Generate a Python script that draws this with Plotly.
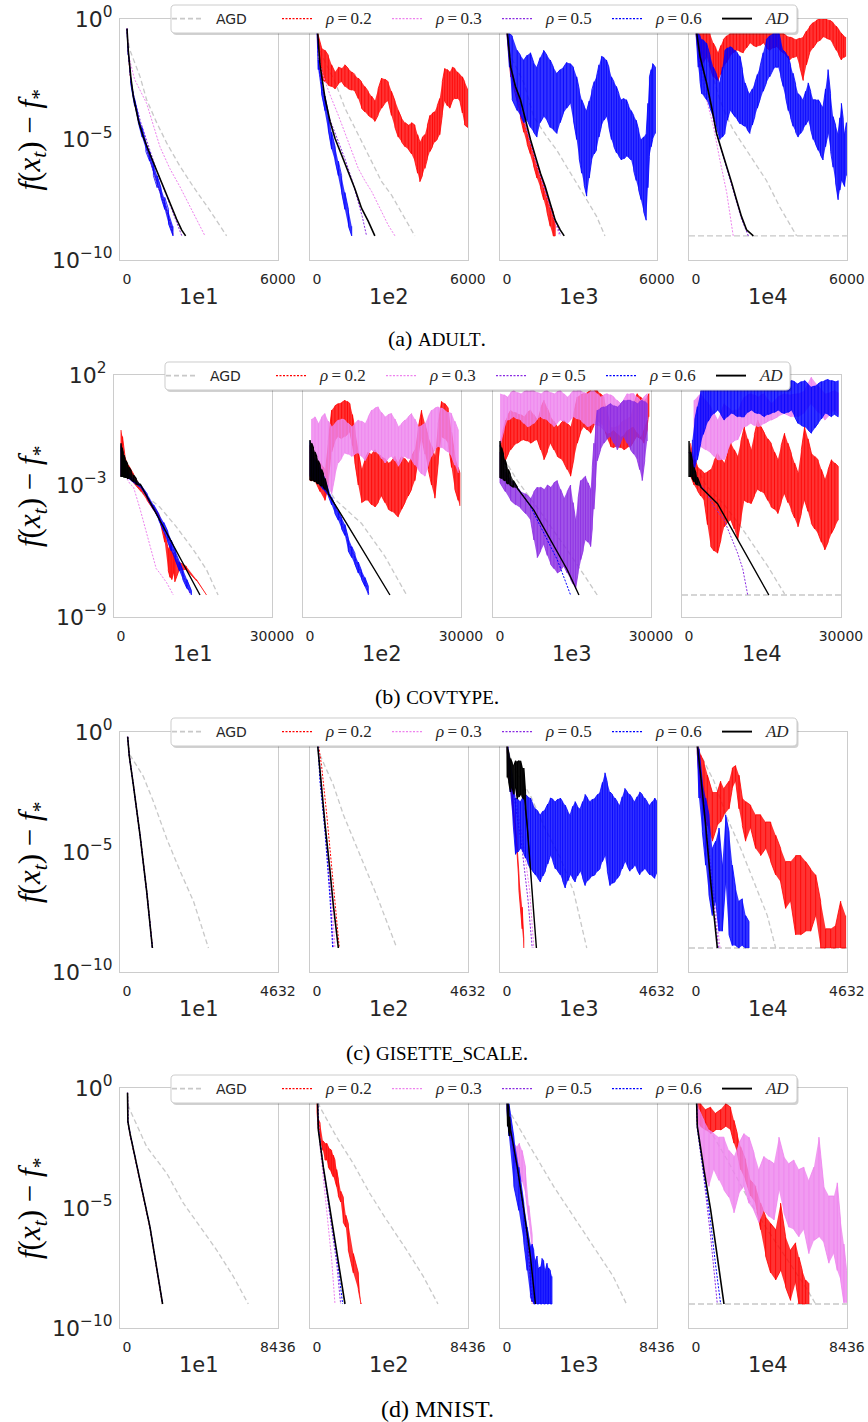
import plotly.graph_objects as go

W, H = 868, 1422

# Convergence curves: each point is (iteration, log10 of f(x_t) - f_*).
# Noisy runs are stored as (iteration, log10 upper, log10 lower) envelopes.

# ---------------- ADULT ----------------
ADULT_XMAX = 6000
ADULT_FLOOR = -9.0

ADULT_1E1_AGD = [(60, -1.0), (120, -1.3), (520, -2.4), (780, -3.35), (1180, -4.3), (1580, -5.15), (2100, -6.1), (2630, -6.95), (3300, -7.95), (3960, -9.0)]
ADULT_1E1_R02 = [(0, -0.4), (50, -1.4), (150, -2.6), (300, -3.5), (500, -4.4), (750, -5.3), (1000, -6.2), (1250, -7.0), (1500, -7.7), (1700, -8.4), (1840, -9.0)]
ADULT_1E1_R03 = [(0, -0.4), (60, -1.5), (300, -2.5), (780, -3.5), (1310, -5.3), (1700, -6.2), (2100, -6.95), (2630, -8.05), (3100, -9.0)]
ADULT_1E1_R05 = [(0, -0.4), (50, -1.35), (150, -2.5), (300, -3.35), (550, -4.3), (850, -5.3), (1150, -6.2), (1450, -7.0), (1750, -7.8), (2000, -8.45), (2180, -9.0)]
ADULT_1E1_R06 = [(0, -0.4, -0.5), (50, -1.3, -1.5), (150, -2.5, -2.7), (300, -3.3, -3.6), (450, -4.0, -4.3), (600, -4.5, -4.9), (750, -5.1, -5.5), (900, -5.5, -5.9), (1050, -6.0, -6.5), (1200, -6.5, -7.0), (1350, -7.0, -7.4), (1500, -7.4, -7.9), (1650, -7.9, -8.5), (1830, -8.6, -9.0)]
ADULT_1E1_AD = [(0, -0.4), (50, -1.3), (150, -2.4), (250, -3.2), (450, -4.2), (650, -4.9), (910, -5.6), (1180, -6.3), (1440, -6.95), (1700, -7.6), (1970, -8.3), (2170, -8.75), (2330, -9.0)]

ADULT_1E2_AGD = [(60, -1.0), (185, -1.5), (715, -2.6), (1110, -3.7), (1640, -4.8), (2040, -5.65), (2570, -6.75), (2960, -7.3), (3490, -8.25), (3890, -9.0)]
ADULT_1E2_R02 = [(0, -0.2, -0.6), (30, -0.6, -1.2), (185, -1.2, -2.5), (320, -1.3, -2.6), (450, -1.5, -2.75), (580, -1.9, -2.8), (715, -2.2, -2.9), (850, -2.0, -2.7), (980, -2.05, -2.6), (1110, -1.9, -2.8), (1245, -2.05, -2.9), (1380, -2.2, -2.95), (1510, -2.3, -3.0), (1640, -2.45, -3.3), (1770, -2.6, -3.7), (1900, -2.8, -3.85), (2040, -3.0, -4.0), (2170, -3.2, -4.1), (2300, -3.4, -4.25), (2430, -2.9, -4.0), (2570, -2.45, -3.7), (2700, -2.5, -3.5), (2830, -2.6, -3.4), (2960, -3.0, -4.0), (3100, -3.4, -4.5), (3230, -3.8, -4.9), (3360, -4.1, -5.1), (3500, -4.3, -5.3), (3630, -4.4, -5.4), (3760, -4.3, -5.6), (3890, -4.4, -5.9), (4000, -4.8, -6.4), (4090, -5.1, -6.75), (4190, -4.9, -6.5), (4290, -4.8, -6.2), (4390, -4.4, -5.8), (4490, -4.0, -5.5), (4590, -3.9, -5.3), (4680, -3.85, -5.1), (4780, -3.6, -5.0), (4880, -3.3, -4.8), (4980, -2.6, -4.0), (5080, -2.05, -3.4), (5180, -2.1, -3.6), (5280, -2.2, -3.7), (5380, -2.0, -3.4), (5480, -2.05, -3.3), (5580, -2.2, -3.3), (5680, -2.3, -3.4), (5780, -2.4, -3.9), (5870, -2.6, -4.4), (6000, -2.9, -4.5)]
ADULT_1E2_R03 = [(0, -0.3), (60, -1.5), (190, -2.2), (500, -3.1), (850, -4.0), (1110, -4.7), (1400, -5.5), (1640, -6.2), (1900, -6.7), (2170, -7.15), (2430, -7.7), (2830, -8.55), (3100, -9.0)]
ADULT_1E2_R05 = [(0, -0.3), (60, -1.9), (200, -2.9), (450, -4.0), (780, -4.9), (1110, -5.8), (1400, -6.7), (1640, -7.6), (1800, -8.2), (1970, -9.0)]
ADULT_1E2_R06 = [(0, -0.3, -0.5), (50, -1.7, -2.1), (180, -2.6, -3.1), (320, -3.2, -3.8), (450, -3.9, -4.6), (580, -4.7, -5.4), (720, -5.3, -5.9), (850, -5.9, -6.5), (980, -6.5, -7.2), (1110, -7.2, -7.9), (1250, -7.9, -8.6), (1380, -8.6, -9.0)]
ADULT_1E2_AD = [(0, -0.2), (30, -0.6), (120, -1.9), (320, -3.3), (520, -4.25), (715, -4.95), (980, -5.65), (1240, -6.35), (1510, -7.05), (1770, -7.85), (2040, -8.4), (2300, -9.0)]

ADULT_1E3_AGD = [(60, -1.0), (150, -1.55), (675, -2.65), (1070, -4.05), (1600, -4.9), (2000, -5.45), (2400, -6.15), (2790, -6.8), (3190, -7.5), (3590, -8.2), (3920, -9.0)]
ADULT_1E3_R02 = [(0, -0.2, -0.6), (150, -1.9, -2.4), (280, -2.5, -2.9), (410, -3.0, -3.4), (540, -3.6, -4.1), (675, -4.2, -4.7), (810, -4.7, -5.2), (940, -5.1, -5.6), (1070, -5.5, -6.1), (1200, -6.0, -6.6), (1340, -6.4, -7.0), (1470, -6.8, -7.5), (1600, -7.2, -8.0), (1730, -7.7, -8.6), (1850, -8.0, -9.0), (1930, -8.3, -9.0)]
ADULT_1E3_R03 = [(0, -0.3), (150, -2.1), (400, -3.2), (700, -4.3), (950, -5.2), (1200, -6.1), (1450, -6.9), (1700, -7.7), (1950, -8.5), (2100, -9.0)]
ADULT_1E3_R05 = [(0, -0.3), (150, -2.0), (420, -3.3), (720, -4.35), (980, -5.2), (1250, -6.2), (1500, -7.0), (1750, -7.8), (2000, -8.6), (2150, -9.0)]
ADULT_1E3_R06 = [(0, -0.2, -0.6), (100, -0.6, -2.0), (210, -0.7, -3.35), (410, -1.3, -3.8), (540, -1.5, -4.0), (675, -1.7, -4.3), (810, -1.5, -4.2), (940, -1.4, -4.5), (1070, -1.8, -4.7), (1200, -2.0, -4.9), (1330, -1.6, -4.3), (1470, -1.3, -4.05), (1600, -1.5, -4.2), (1730, -1.7, -4.5), (1860, -2.0, -4.6), (2000, -2.25, -4.75), (2130, -2.1, -4.3), (2260, -2.0, -3.9), (2390, -1.8, -3.7), (2530, -1.85, -3.5), (2660, -2.0, -4.2), (2790, -2.4, -5.0), (2890, -2.9, -5.8), (2990, -3.35, -6.4), (3090, -3.6, -6.9), (3190, -3.8, -7.35), (3290, -3.4, -6.6), (3390, -2.95, -5.85), (3490, -2.6, -5.6), (3580, -2.4, -5.45), (3680, -1.9, -4.9), (3780, -1.55, -4.45), (3880, -1.6, -4.2), (3980, -1.7, -4.05), (4080, -2.0, -4.5), (4180, -2.4, -5.0), (4280, -2.6, -5.3), (4380, -2.8, -5.55), (4480, -3.1, -5.7), (4580, -3.35, -5.85), (4680, -3.3, -5.8), (4780, -3.35, -5.7), (4870, -3.6, -5.75), (4970, -3.8, -5.85), (5070, -4.0, -6.3), (5170, -4.2, -6.7), (5270, -4.6, -7.1), (5370, -5.0, -7.5), (5470, -4.9, -8.0), (5570, -4.75, -8.35), (5640, -3.5, -7.0), (5700, -2.4, -5.7), (5770, -2.1, -5.3), (5830, -1.85, -5.0), (5940, -2.0, -4.75)]
ADULT_1E3_AD = [(0, -0.2), (20, -0.6), (150, -2.0), (340, -2.8), (540, -3.35), (740, -4.2), (940, -5.0), (1140, -5.7), (1340, -6.4), (1530, -6.95), (1730, -7.65), (1930, -8.35), (2130, -8.75), (2290, -9.0)]

ADULT_1E4_AGD = [(60, -1.0), (560, -2.0), (950, -3.35), (1220, -4.05), (1480, -4.6), (2280, -5.85), (2800, -6.7), (3330, -7.8), (3860, -8.75), (4000, -9.0)]
ADULT_1E4_R02 = [(0, -0.2, -0.6), (160, -0.6, -2.0), (290, -0.45, -1.8), (420, -0.3, -1.55), (555, -0.6, -2.0), (690, -1.0, -2.4), (790, -1.2, -2.5), (890, -1.4, -2.55), (990, -1.1, -2.3), (1090, -0.85, -2.0), (1220, -0.7, -1.8), (1350, -0.6, -1.55), (1480, -0.4, -1.4), (1610, -0.2, -1.3), (1745, -0.3, -1.35), (1880, -0.45, -1.4), (2010, -0.25, -1.2), (2140, -0.05, -1.0), (2275, -0.1, -1.1), (2410, -0.2, -1.15), (2540, -0.25, -1.1), (2670, -0.3, -1.0), (2805, -0.15, -1.2), (2940, -0.05, -1.3), (3070, -0.1, -1.2), (3200, -0.2, -1.15), (3335, -0.4, -1.3), (3470, -0.6, -1.4), (3600, -0.7, -1.55), (3730, -0.75, -1.7), (3860, -0.8, -1.6), (4000, -0.85, -1.55), (4130, -0.8, -2.0), (4260, -0.75, -2.55), (4390, -0.5, -1.9), (4520, -0.3, -1.4), (4655, -0.15, -1.2), (4790, -0.05, -1.0), (4920, 0.0, -0.9), (5050, 0.0, -0.75), (5185, 0.0, -0.8), (5320, -0.05, -0.85), (5450, -0.15, -1.05), (5580, -0.3, -1.3), (5680, -0.45, -1.5), (5780, -0.6, -1.7), (5870, -0.7, -1.6), (5950, -0.75, -1.55)]
ADULT_1E4_R03 = [(0, -0.2), (160, -2.0), (420, -3.35), (690, -4.45), (950, -5.85), (1220, -7.2), (1480, -9.0)]
ADULT_1E4_R05 = [(0, -0.2), (160, -1.7), (420, -2.8), (820, -4.8), (1220, -6.2), (1610, -7.6), (1810, -8.3), (2080, -9.0)]
ADULT_1E4_R06 = [(0, -0.2, -0.6), (90, -0.6, -2.0), (160, -0.7, -2.6), (225, -0.85, -3.1), (320, -0.9, -3.2), (420, -1.0, -3.35), (555, -1.5, -3.7), (690, -2.0, -4.05), (820, -2.3, -4.5), (950, -2.65, -5.0), (1050, -2.0, -4.9), (1150, -1.3, -4.75), (1250, -1.2, -4.2), (1350, -1.15, -3.8), (1450, -1.2, -3.9), (1550, -1.3, -4.05), (1650, -1.4, -4.2), (1750, -1.55, -4.35), (1850, -2.1, -4.4), (1950, -2.65, -4.45), (2040, -2.9, -4.6), (2140, -3.1, -4.75), (2240, -2.9, -4.4), (2340, -2.65, -4.05), (2440, -2.3, -3.7), (2540, -2.0, -3.35), (2670, -1.4, -3.0), (2800, -0.85, -2.65), (2930, -0.7, -2.4), (3070, -0.6, -2.1), (3170, -0.5, -2.0), (3270, -0.45, -2.0), (3370, -0.9, -2.4), (3470, -1.3, -2.8), (3570, -1.4, -3.3), (3670, -1.55, -3.8), (3760, -1.9, -4.1), (3860, -2.25, -4.45), (3960, -2.7, -4.7), (4060, -3.1, -4.9), (4160, -3.2, -4.75), (4260, -3.35, -4.6), (4360, -3.0, -4.4), (4460, -2.65, -4.2), (4560, -3.0, -4.6), (4660, -3.35, -5.0), (4760, -3.35, -5.2), (4860, -3.35, -5.45), (4950, -3.5, -5.65), (5050, -3.65, -5.85), (5150, -2.9, -5.3), (5250, -2.1, -4.75), (5350, -3.1, -5.5), (5450, -4.05, -6.15), (5550, -4.4, -6.8), (5650, -4.75, -7.5), (5720, -4.1, -7.1), (5780, -3.5, -6.7), (5850, -4.1, -6.8), (5910, -4.75, -6.95), (5980, -4.3, -6.5)]
ADULT_1E4_AD = [(0, -0.2), (30, -0.6), (160, -1.55), (290, -2.1), (420, -2.65), (620, -3.65), (820, -4.75), (1020, -5.45), (1220, -6.1), (1420, -6.8), (1610, -7.5), (1810, -8.2), (2010, -8.75), (2280, -9.0)]

# ---------------- COVTYPE ----------------
COV_XMAX = 30000
COV_FLOOR = -8.0

COV_1E1_AGD = [(0, -1.3), (1100, -2.3), (4400, -3.4), (7700, -4.0), (11000, -4.9), (14400, -5.95), (17000, -6.85), (19300, -8.0)]
COV_1E1_R02 = [(0, -0.5, -2.6), (300, -0.8, -2.5), (800, -1.7, -2.6), (1500, -2.1, -2.7), (2500, -2.5, -2.9), (4000, -3.1, -3.3), (5200, -3.5, -3.7), (6400, -3.95, -4.1), (7700, -4.4, -4.6), (8700, -5.2, -5.6), (9400, -5.9, -6.9), (9750, -5.7, -7.2), (10100, -6.0, -7.3), (10400, -6.1, -7.0), (10700, -6.3, -7.4), (11500, -6.5, -6.9), (13000, -6.7, -6.85), (15000, -7.3, -7.35), (17000, -8.0, -8.0)]
COV_1E1_R03 = [(0, -1.5), (600, -2.5), (1800, -2.95), (2500, -3.1), (3800, -4.1), (5100, -5.2), (6400, -6.4), (7000, -6.8), (7700, -7.0), (8400, -7.2), (9100, -7.45), (10400, -8.0)]
COV_1E1_R05 = [(0, -1.4), (600, -2.5), (2000, -2.75), (3800, -3.05), (6400, -3.95), (8400, -4.9), (10000, -5.75), (11500, -6.55), (12700, -7.3), (13800, -8.0)]
COV_1E1_R06 = [(0, -1.2, -2.6), (500, -2.2, -2.6), (2000, -2.6, -2.8), (3800, -2.95, -3.1), (5200, -3.4, -3.6), (6500, -3.9, -4.15), (7500, -4.3, -4.6), (8500, -4.7, -5.1), (9300, -5.1, -5.6), (10000, -5.5, -6.0), (10800, -6.0, -6.4), (11600, -6.5, -6.9), (12300, -6.9, -7.3), (13100, -7.3, -7.7), (14000, -7.8, -8.0)]
COV_1E1_AD = [(0, -1.1, -2.6), (200, -1.3, -2.6), (400, -1.5, -2.6), (600, -1.65, -2.65), (800, -1.8, -2.65), (1000, -1.9, -2.65), (1300, -2.05, -2.7), (1600, -2.2, -2.7), (2000, -2.35, -2.75), (2500, -2.55, -2.85), (3000, -2.7, -2.95), (3800, -2.95, -3.0), (6500, -4.08, -4.08), (9000, -5.13, -5.13), (12000, -6.4, -6.4), (15700, -8.0, -8.0)]

COV_1E2_AGD = [(0, -1.5), (1650, -2.5), (4960, -3.65), (10260, -4.75), (14900, -6.25), (19200, -8.0)]
COV_1E2_R02 = [(0, -1.2, -2.8), (500, -1.5, -2.8), (990, -1.7, -2.8), (2000, -2.0, -3.3), (2980, -2.3, -3.7), (3640, -1.0, -3.0), (4300, 0.4, -1.5), (4960, 0.6, -1.0), (5630, 0.7, -0.8), (6290, 0.75, -0.9), (6950, 0.85, -0.8), (7450, 0.8, -0.7), (7940, 0.7, -0.6), (8440, 0.2, -1.2), (8940, -0.5, -2.0), (9600, -1.5, -3.0), (10260, -2.3, -3.8), (10920, -1.8, -3.7), (11590, -1.5, -3.7), (12250, -1.6, -3.9), (12910, -1.4, -4.0), (13570, -1.6, -3.8), (14230, -1.7, -3.5), (14900, -1.8, -3.8), (15560, -2.0, -4.1), (16220, -1.9, -4.2), (16880, -1.7, -4.3), (17540, -2.0, -4.45), (18200, -1.7, -4.1), (18870, -1.8, -3.8), (19530, -2.0, -3.5), (20190, -1.7, -3.2), (20850, -1.4, -2.8), (21520, -0.4, -1.8), (22180, 0.4, -0.8), (22840, -0.2, -1.6), (23500, -0.8, -2.3), (24160, -1.2, -3.0), (24830, -1.7, -3.6), (25490, -0.2, -2.0), (26150, 0.8, -0.8), (26810, 0.7, -0.9), (27470, 0.5, -1.1), (28140, -0.6, -2.2), (28800, -1.7, -3.2), (29460, -2.2, -3.7), (29790, -2.45, -3.95)]
COV_1E2_R03 = [(330, 0.0, -2.5), (990, 0.1, -2.2), (1650, -0.2, -1.9), (2320, 0.1, -2.4), (2980, 0.25, -2.8), (3640, -0.1, -3.1), (4300, -0.35, -3.4), (4960, -0.2, -2.6), (5630, -0.05, -2.0), (6290, 0.0, -1.8), (6950, -0.05, -1.55), (7610, -0.2, -1.6), (8280, -0.35, -1.7), (8940, -0.2, -1.6), (9600, -0.05, -1.55), (10260, -0.1, -1.7), (10920, -0.2, -1.9), (11590, 0.1, -1.6), (12250, 0.4, -1.4), (12910, 0.5, -1.5), (13570, 0.55, -1.55), (14230, 0.3, -1.8), (14900, 0.1, -2.0), (15560, 0.2, -1.8), (16220, 0.25, -1.7), (16880, 0.0, -1.9), (17540, -0.35, -2.15), (18200, -0.2, -1.9), (18870, -0.05, -1.7), (19530, 0.1, -1.8), (20190, 0.25, -1.85), (20850, 0.0, -2.1), (21520, -0.35, -2.3), (22180, -0.3, -2.5), (22840, -0.2, -2.6), (23500, 0.1, -2.1), (24160, 0.4, -1.7), (24830, 0.5, -1.4), (25490, 0.55, -1.25), (26150, 0.5, -1.3), (26810, 0.4, -1.4), (27470, 0.3, -1.5), (28140, 0.25, -1.7), (28800, -0.1, -2.1), (29460, -0.5, -2.45)]
COV_1E2_R05 = [(0, -1.2), (1650, -2.3), (3640, -3.3), (5630, -4.3), (7610, -5.6), (9600, -6.7), (10900, -7.4), (11800, -8.0)]
COV_1E2_R06 = [(0, -1.0, -2.6), (800, -1.8, -2.8), (1650, -2.0, -2.9), (2600, -2.5, -3.2), (3640, -3.2, -3.5), (4300, -3.55, -3.9), (4960, -3.9, -4.3), (5630, -4.2, -4.6), (6300, -4.5, -5.0), (6950, -4.8, -5.3), (7610, -5.4, -6.0), (8300, -5.8, -6.3), (8940, -6.1, -6.6), (9600, -6.5, -7.0), (10260, -6.9, -7.3), (10920, -7.2, -7.6), (11590, -7.6, -8.0)]
COV_1E2_AD = [(0, -0.95, -2.75), (330, -1.1, -2.8), (660, -1.3, -2.8), (990, -1.5, -2.85), (1320, -1.7, -2.9), (1650, -1.9, -2.95), (2000, -2.1, -3.0), (2320, -2.3, -3.05), (2650, -2.5, -3.1), (3000, -2.7, -3.2), (3640, -3.35, -3.4), (7000, -4.64, -4.64), (11000, -6.14, -6.14), (15890, -8.0, -8.0)]

COV_1E3_AGD = [(0, -1.5), (3440, -2.8), (8740, -4.45), (14700, -6.4), (19330, -8.0)]
COV_1E3_R02 = [(130, -0.95, -2.6), (630, -0.5, -2.2), (1130, -0.05, -1.85), (1620, 0.2, -1.6), (2120, 0.4, -1.4), (2780, 0.3, -1.2), (3440, 0.26, -1.1), (4100, 0.2, -1.0), (4770, 0.1, -0.95), (5430, 0.3, -1.0), (6090, 0.4, -1.1), (6750, 0.2, -1.0), (7410, -0.05, -0.95), (8080, 0.5, -1.4), (8740, 0.85, -1.85), (9400, 0.5, -1.5), (10060, 0.1, -1.1), (10720, -0.1, -1.4), (11390, -0.35, -1.7), (12050, -0.2, -1.8), (12710, -0.05, -2.0), (13370, -0.2, -2.3), (14030, -0.35, -2.6), (14700, 0.3, -1.8), (15360, 1.0, -1.1), (16020, 1.1, -0.6), (16680, 1.15, -0.35), (17340, 1.2, -0.5), (18010, 1.3, -0.65), (18670, 1.3, -0.3), (19330, 1.3, -0.05), (19990, 1.15, -0.2), (20650, 1.0, -0.35), (21320, 0.3, -0.9), (21980, -0.35, -1.25), (22640, -0.4, -1.3), (23300, -0.35, -1.25), (23960, -0.2, -1.3), (24630, -0.05, -1.4), (25290, 0.0, -1.3), (25950, 0.1, -1.25), (26610, 0.7, -1.0), (27270, 1.15, -0.8), (27940, 1.0, -0.9), (28600, 0.85, -1.1), (29260, 1.0, -0.5), (29590, 1.15, 0.1)]
COV_1E3_R03 = [(130, 1.15, -1.1), (790, 1.1, -0.5), (1460, 1.0, -0.05), (2120, 1.2, 0.0), (2780, 1.3, 0.1), (3440, 1.2, 0.0), (4100, 1.15, -0.05), (4770, 1.25, -0.2), (5430, 1.3, -0.35), (6090, 1.3, -0.3), (6750, 1.3, -0.2), (7410, 1.2, 0.0), (8080, 1.15, 0.1), (8740, 1.25, 0.0), (9400, 1.3, -0.05), (10060, 1.2, -0.2), (10720, 1.15, -0.35), (11390, 1.25, -0.2), (12050, 1.3, -0.05), (12710, 1.15, -0.1), (13370, 1.0, -0.2), (14030, 1.15, -0.05), (14700, 1.3, 0.1), (15360, 1.3, 0.0), (16020, 1.3, -0.05), (16680, 1.2, -0.2), (17340, 1.15, -0.35), (18010, 1.25, -0.3), (18670, 1.3, -0.2), (19330, 1.15, -0.3), (19990, 1.0, -0.35), (20650, 1.1, -0.5), (21320, 1.15, -0.65), (21980, 1.1, -0.6), (22640, 1.0, -0.5), (23300, 0.85, -0.65), (23960, 0.7, -0.8), (24630, 0.9, -0.7), (25290, 1.15, -0.5), (25950, 1.15, -0.4), (26610, 1.15, -0.35), (27270, 1.0, -0.6), (27940, 0.85, -0.8), (28600, 1.0, -0.4), (29260, 1.15, -0.05)]
COV_1E3_R05 = [(0, -1.5, -2.9), (1060, -2.4, -3.3), (2120, -2.8, -3.7), (3110, -3.0, -3.9), (4100, -3.3, -4.05), (5090, -3.4, -4.3), (6090, -3.6, -4.6), (6750, -3.3, -5.5), (7410, -3.1, -6.3), (8080, -3.1, -6.0), (8740, -3.2, -5.7), (9400, -3.0, -6.2), (10060, -3.1, -6.6), (10720, -2.9, -6.8), (11390, -2.8, -7.0), (12050, -3.2, -6.9), (12710, -3.6, -6.7), (13370, -3.3, -7.0), (14030, -3.0, -7.3), (14530, -3.8, -7.5), (15030, -4.6, -7.7), (15530, -3.6, -7.0), (16020, -2.8, -6.4), (16520, -2.7, -6.0), (17010, -2.6, -5.5), (17510, -2.9, -5.6), (18010, -3.2, -5.8), (18340, -2.2, -5.0), (18670, -1.1, -4.1), (19000, -0.3, -3.0), (19330, 0.4, -1.9), (19990, 0.5, -1.4), (20650, 0.55, -1.1), (21320, 0.6, -0.9), (21980, 0.7, -0.8), (22640, 0.6, -1.1), (23300, 0.55, -1.4), (23960, 0.7, -1.1), (24630, 0.85, -0.8), (25290, 0.85, -1.1), (25950, 0.85, -1.4), (26610, 0.8, -1.6), (27270, 0.7, -1.85), (27770, 0.8, -2.3), (28270, 0.85, -2.8), (28770, 0.8, -1.9), (29260, 0.7, -1.0)]
COV_1E3_R06 = [(0, -1.2), (1500, -2.6), (3440, -3.1), (6000, -3.95), (8080, -4.9), (11390, -6.4), (14030, -8.0)]
COV_1E3_AD = [(0, -1.0, -2.65), (330, -1.3, -2.7), (660, -1.6, -2.75), (990, -1.85, -2.8), (1320, -2.1, -2.9), (1650, -2.3, -2.95), (2000, -2.5, -3.0), (2650, -2.8, -3.1), (3440, -3.1, -3.15), (6750, -4.15, -4.15), (10060, -5.5, -5.5), (13370, -6.85, -6.85), (15690, -8.0, -8.0)]

COV_1E4_AGD = [(0, -1.5), (3300, -3.0), (6950, -3.9), (10260, -4.9), (15560, -6.7), (18870, -7.95)]
COV_1E4_R02 = [(330, -1.1, -2.6), (990, -1.7, -3.0), (1650, -2.15, -3.25), (2320, -2.3, -3.5), (2980, -2.45, -3.7), (3640, -2.4, -4.8), (4300, -2.3, -5.8), (4960, -1.9, -6.0), (5630, -1.55, -6.1), (6290, -1.8, -5.5), (6950, -2.0, -4.9), (7610, -1.5, -4.7), (8280, -1.1, -4.6), (8940, -1.4, -5.0), (9600, -1.7, -5.5), (10260, -1.0, -4.6), (10920, -0.35, -3.7), (11590, -0.9, -3.8), (12250, -1.4, -3.85), (12910, -0.7, -3.5), (13570, -0.05, -3.2), (14230, -0.35, -3.3), (14900, -0.65, -3.4), (15560, -0.9, -3.7), (16220, -1.1, -4.0), (16880, -1.5, -4.1), (17540, -1.85, -4.3), (18200, -1.2, -3.8), (18870, -0.65, -3.4), (19530, -1.1, -3.8), (20190, -1.55, -4.15), (20850, -2.0, -4.5), (21520, -2.45, -4.9), (22180, -1.4, -4.3), (22840, -0.35, -3.7), (23500, -0.9, -4.2), (24160, -1.55, -4.75), (24830, -1.7, -5.0), (25490, -1.85, -5.2), (26150, -2.3, -5.6), (26810, -2.75, -5.95), (27470, -2.3, -5.6), (28140, -1.85, -5.2), (28800, -2.0, -4.9), (29460, -2.15, -4.6)]
COV_1E4_R03 = [(990, 0.85, -1.85), (1650, 1.0, -1.5), (2320, 1.15, -1.25), (3310, 0.85, -1.4), (4300, 0.55, -1.55), (4960, 0.25, -1.7), (5630, -0.05, -1.85), (6290, 0.3, -1.85), (6950, 0.7, -1.85), (7610, 0.55, -1.5), (8280, 0.4, -1.1), (8940, 0.4, -1.0), (9600, 0.4, -0.95), (10260, 0.7, -0.6), (10920, 1.0, -0.35), (11590, 1.1, -0.3), (12250, 1.15, -0.2), (12910, 1.1, -0.3), (13570, 1.0, -0.35), (14230, 1.1, -0.3), (14900, 1.15, -0.2), (15560, 0.9, -0.1), (16220, 0.7, -0.05), (17540, 1.0, 0.1), (18870, 1.15, 0.25), (20190, 1.1, 0.1), (21520, 1.15, 0.1), (22840, 1.3, 0.3), (24160, 1.9, 0.7), (25490, 1.5, 0.3), (26810, 1.15, -0.05), (27800, 1.2, 0.2), (28800, 1.3, 0.4), (29460, 1.2, 0.2)]
COV_1E4_R05 = [(0, -1.5), (1650, -2.8), (3300, -3.3), (5000, -4.0), (6950, -4.6), (8300, -5.4), (9600, -6.1), (10600, -6.8), (11590, -8.0)]
COV_1E4_R06 = [(660, -0.95, -2.6), (1160, 0.0, -2.2), (1650, 0.56, -1.85), (2320, 1.3, -1.1), (2810, 1.4, -0.7), (3310, 1.45, -0.35), (3800, 1.45, -0.1), (4300, 1.45, 0.1), (4960, 1.6, 0.25), (5630, 1.75, 0.4), (6290, 1.7, 0.2), (6950, 1.6, -0.05), (7610, 1.7, 0.1), (8280, 1.75, 0.25), (8940, 1.6, 0.2), (9600, 1.45, 0.1), (10260, 1.6, 0.1), (10920, 1.75, 0.1), (11590, 1.8, 0.3), (12250, 1.75, 0.4), (12910, 1.7, 0.3), (13570, 1.6, 0.25), (14230, 1.7, 0.2), (14900, 1.75, 0.1), (15560, 1.7, 0.2), (16220, 1.6, 0.25), (16880, 1.7, 0.3), (17540, 1.75, 0.4), (18200, 1.7, 0.3), (18870, 1.6, 0.25), (19530, 1.7, 0.3), (20190, 1.75, 0.4), (20850, 1.7, 0.1), (21520, 1.6, -0.2), (22180, 1.7, -0.3), (22840, 1.75, -0.35), (23500, 1.6, -0.5), (24160, 1.45, -0.65), (24830, 1.5, -0.4), (25490, 1.6, -0.2), (26150, 1.7, 0.0), (26810, 1.75, 0.25), (27470, 1.8, 0.2), (28140, 1.75, 0.1), (28800, 1.7, 0.2), (29460, 1.75, 0.1)]
COV_1E4_AD = [(0, -1.0, -2.6), (330, -1.5, -2.6), (660, -1.9, -2.7), (990, -2.2, -2.85), (1320, -2.45, -2.95), (1650, -2.65, -3.0), (2320, -3.05, -3.1), (5630, -3.85, -3.85), (8940, -5.2, -5.2), (12250, -6.55, -6.55), (15760, -8.0, -8.0)]

# ---------------- GISETTE_SCALE ----------------
GIS_XMAX = 4632
GIS_FLOOR = -9.0

GIS_1E1_AGD = [(90, -0.95), (500, -1.85), (810, -2.9), (1220, -4.45), (1630, -5.8), (2040, -7.05), (2500, -9.0)]
GIS_1E1_R02 = [(20, -0.2), (75, -1.05), (200, -2.25), (405, -4.35), (610, -6.7), (785, -9.0)]
GIS_1E1_R03 = [(20, -0.2), (70, -1.0), (195, -2.2), (400, -4.3), (605, -6.65), (780, -9.0)]
GIS_1E1_R05 = [(20, -0.2), (70, -1.0), (195, -2.2), (400, -4.3), (605, -6.65), (780, -9.0)]
GIS_1E1_R06 = [(20, -0.2), (70, -1.0), (195, -2.2), (400, -4.3), (605, -6.65), (780, -9.0)]
GIS_1E1_AD = [(20, -0.2), (70, -1.0), (195, -2.2), (400, -4.3), (605, -6.65), (780, -9.0)]

GIS_1E2_AGD = [(90, -0.95), (500, -2.2), (810, -3.45), (1320, -5.15), (1830, -6.8), (2450, -9.0)]
GIS_1E2_R02 = [(20, -0.3), (140, -1.4), (300, -3.45), (450, -5.55), (600, -7.6), (685, -9.0)]
GIS_1E2_R03 = [(20, -0.3), (100, -1.7), (250, -3.8), (400, -5.9), (552, -9.0)]
GIS_1E2_R05 = [(20, -0.3), (95, -1.8), (245, -4.0), (390, -6.4), (500, -9.0)]
GIS_1E2_R06 = [(20, -0.3), (90, -2.05), (245, -4.15), (400, -6.95), (480, -9.0)]
GIS_1E2_AD = [(20, -0.55), (90, -1.65), (250, -3.9), (400, -5.8), (500, -7.2), (655, -9.0)]

GIS_1E3_AGD = [(60, -0.9), (215, -1.5), (725, -2.65), (1135, -3.9), (1650, -5.25), (2060, -6.65), (2465, -9.0)]
GIS_1E3_R02 = [(10, -0.3, -0.8), (60, -1.5, -2.0), (165, -2.4, -3.0), (265, -3.8, -4.4), (370, -5.9, -6.6), (470, -7.3, -8.2), (520, -8.6, -9.0)]
GIS_1E3_R03 = [(10, -0.3), (100, -1.6), (300, -3.0), (500, -4.6), (700, -6.6), (830, -9.0)]
GIS_1E3_R05 = [(10, -0.3), (100, -1.7), (280, -3.2), (470, -4.9), (650, -7.0), (780, -9.0)]
GIS_1E3_R06 = [(10, -0.3, -0.8), (100, -1.2, -2.5), (190, -2.0, -3.8), (266, -2.75, -5.1), (340, -2.8, -5.0), (419, -2.9, -4.85), (500, -2.7, -5.0), (573, -2.6, -5.25), (650, -2.7, -5.5), (726, -2.75, -5.7), (800, -3.0, -5.8), (880, -3.2, -5.95), (960, -3.3, -6.1), (1033, -3.45, -6.25), (1110, -3.3, -6.0), (1187, -3.2, -5.8), (1260, -3.0, -5.5), (1340, -2.75, -5.15), (1420, -2.8, -5.4), (1494, -2.9, -5.7), (1570, -2.8, -5.8), (1647, -2.75, -5.95), (1720, -2.9, -6.2), (1800, -3.05, -6.5), (1880, -3.3, -6.2), (1954, -3.45, -5.95), (2030, -3.1, -6.1), (2107, -2.9, -6.25), (2180, -3.1, -6.0), (2261, -3.2, -5.8), (2340, -2.9, -6.1), (2414, -2.6, -6.4), (2490, -2.75, -6.2), (2568, -2.9, -6.1), (2640, -2.8, -6.0), (2721, -2.75, -5.95), (2800, -2.6, -5.8), (2875, -2.5, -5.7), (2950, -2.1, -5.4), (3028, -1.7, -5.15), (3100, -2.1, -5.8), (3182, -2.5, -6.4), (3260, -2.6, -6.3), (3335, -2.75, -6.25), (3410, -2.9, -6.1), (3488, -3.05, -5.95), (3560, -2.7, -5.7), (3642, -2.35, -5.4), (3720, -2.5, -5.6), (3795, -2.6, -5.8), (3870, -2.75, -5.7), (3949, -2.9, -5.55), (4020, -2.7, -5.75), (4102, -2.5, -5.95), (4180, -2.6, -5.8), (4256, -2.75, -5.7), (4330, -2.9, -5.8), (4409, -3.05, -5.95), (4490, -2.9, -6.0), (4563, -2.75, -6.1), (4632, -2.9, -5.9)]
GIS_1E3_AD = [(0, 0.0, -0.6), (10, -0.6, -1.9), (60, -0.9, -2.1), (110, -1.1, -2.5), (160, -1.3, -2.3), (215, -1.4, -2.6), (270, -1.2, -2.3), (320, -1.25, -2.8), (370, -1.2, -2.7), (420, -1.2, -2.6), (470, -1.5, -2.7), (520, -1.5, -2.8), (570, -2.5, -3.2), (625, -3.9, -3.9), (725, -5.55, -5.55), (830, -7.6, -7.6), (910, -9.0, -9.0)]

GIS_1E4_AGD = [(60, -0.8), (143, -0.95), (552, -2.05), (962, -3.6), (1371, -4.85), (1780, -6.25), (2189, -7.65), (2445, -9.0)]
GIS_1E4_R02 = [(40, -0.3, -0.9), (143, -0.95, -2.75), (246, -1.25, -3.45), (348, -1.8, -3.9), (501, -2.5, -4.55), (655, -2.5, -3.9), (757, -2.05, -3.75), (859, -2.35, -3.45), (1013, -2.05, -3.2), (1115, -1.5, -2.35), (1217, -1.4, -2.05), (1320, -1.8, -3.2), (1422, -2.75, -3.9), (1524, -2.9, -4.55), (1678, -3.05, -4.0), (1831, -3.45, -4.85), (1985, -3.45, -5.15), (2138, -3.75, -4.85), (2292, -3.75, -5.4), (2445, -4.3, -5.95), (2598, -4.85, -6.25), (2752, -5.4, -7.35), (2905, -5.4, -7.05), (3059, -5.15, -8.45), (3212, -5.15, -8.45), (3366, -5.4, -8.3), (3519, -5.7, -8.3), (3673, -5.95, -7.65), (3826, -7.05, -9.0), (3979, -8.2, -9.0), (4133, -8.2, -9.0), (4286, -8.05, -9.0), (4440, -7.05, -9.0), (4593, -7.65, -9.0)]
GIS_1E4_R03 = [(20, -0.2), (150, -1.8), (320, -3.9), (500, -6.0), (640, -7.6), (737, -9.0)]
GIS_1E4_R05 = [(20, -0.2), (140, -1.8), (300, -3.9), (460, -6.1), (600, -7.9), (690, -9.0)]
GIS_1E4_R06 = [(40, -0.3, -0.8), (92, -0.7, -2.75), (194, -2.05, -4.15), (297, -2.75, -5.55), (399, -3.45, -6.8), (501, -4.85, -7.65), (604, -4.55, -7.05), (706, -4.0, -8.3), (808, -5.55, -8.3), (910, -3.45, -6.25), (1013, -4.15, -8.45), (1115, -5.55, -8.9), (1217, -6.5, -8.9), (1320, -7.05, -9.0), (1422, -6.95, -8.9), (1524, -7.65, -9.0), (1627, -7.9, -9.0)]
GIS_1E4_AD = [(20, -0.3), (41, -0.6), (143, -1.8), (297, -3.9), (450, -6.25), (655, -9.0)]

# ---------------- MNIST ----------------
MN_XMAX = 8436
MN_FLOOR = -9.0

MN_1E1_AGD = [(60, -0.7), (168, -0.92), (1100, -2.45), (2220, -3.55), (3150, -4.8), (4080, -5.8), (5010, -6.75), (5940, -7.85), (6780, -9.0)]
MN_1E1_R02 = [(30, -0.2), (50, -1.4), (170, -1.95), (730, -3.9), (1285, -5.85), (1980, -9.0)]
MN_1E1_R03 = [(30, -0.2), (50, -1.4), (170, -1.9), (730, -3.85), (1285, -5.8), (1990, -9.0)]
MN_1E1_R05 = [(30, -0.2), (50, -1.4), (170, -1.9), (730, -3.85), (1285, -5.8), (1990, -9.0)]
MN_1E1_R06 = [(30, -0.2), (50, -1.4), (170, -1.9), (730, -3.85), (1285, -5.8), (1990, -9.0)]
MN_1E1_AD = [(30, -0.2), (50, -1.4), (170, -1.9), (730, -3.85), (1285, -5.8), (1990, -9.0)]

MN_1E2_AGD = [(60, -0.6), (168, -0.8), (1100, -2.05), (2030, -3.15), (2960, -4.4), (3890, -5.5), (5010, -6.75), (5940, -7.85), (6760, -9.0)]
MN_1E2_R02 = [(0, -0.3, -1.0), (75, -1.3, -1.7), (168, -1.45, -2.05), (330, -2.2, -2.6), (447, -2.3, -3.0), (540, -2.3, -3.0), (633, -2.45, -3.3), (726, -2.55, -3.4), (819, -2.6, -3.55), (910, -2.8, -3.7), (1005, -3.0, -3.85), (1100, -3.4, -4.1), (1192, -3.8, -4.5), (1330, -4.3, -4.75), (1471, -4.55, -5.6), (1610, -5.3, -5.8), (1750, -5.65, -6.75), (2030, -6.9, -7.7), (2309, -7.7, -8.4), (2458, -8.95, -9.0)]
MN_1E2_R03 = [(30, -0.3), (168, -2.45), (540, -5.1), (820, -7.15), (1005, -9.0)]
MN_1E2_R05 = [(30, -0.3), (75, -1.6), (354, -3.4), (726, -5.3), (1099, -7.3), (1322, -9.0)]
MN_1E2_R06 = [(30, -0.3), (75, -1.7), (354, -3.3), (726, -5.15), (1099, -6.95), (1434, -9.0)]
MN_1E2_AD = [(20, -0.2), (37, -0.6), (75, -1.75), (354, -3.3), (726, -5.1), (1099, -6.9), (1564, -9.0)]

MN_1E3_AGD = [(60, -0.8), (205, -1.05), (1508, -2.7), (2625, -4.1), (3742, -5.35), (4860, -6.6), (5977, -7.85), (6722, -9.0)]
MN_1E3_R02 = [(20, -0.3), (205, -1.85), (577, -3.4), (950, -5.2), (1200, -6.7), (1415, -9.0)]
MN_1E3_R03 = [(0, -0.3, -0.9), (200, -1.7, -2.2), (390, -2.3, -3.0), (577, -2.45, -3.4), (700, -2.3, -3.8), (850, -2.6, -3.9), (1043, -3.3, -4.4), (1229, -4.9, -5.5), (1415, -6.1, -6.8), (1601, -8.5, -9.0)]
MN_1E3_R05 = [(20, -0.3), (205, -1.8), (577, -3.3), (950, -5.1), (1322, -7.1), (1560, -9.0)]
MN_1E3_R06 = [(0, -0.3, -0.9), (112, -0.65, -2.0), (391, -2.05, -4.1), (670, -3.3, -5.1), (950, -4.8, -6.45), (1136, -5.8, -7.6), (1322, -6.6, -8.7), (1415, -6.5, -8.9), (1508, -6.75, -9.0), (1600, -7.2, -9.0), (1694, -7.0, -9.0), (1790, -7.5, -9.0), (1881, -7.45, -9.0), (1970, -7.1, -9.0), (2067, -7.2, -9.0), (2160, -7.6, -9.0), (2253, -7.3, -9.0), (2340, -7.5, -9.0), (2439, -7.6, -9.0), (2532, -7.85, -9.0)]
MN_1E3_AD = [(0, -0.3, -0.7), (40, -0.6, -1.6), (100, -0.8, -1.8), (150, -1.2, -2.0), (205, -1.75, -1.75), (577, -3.28, -3.28), (950, -5.08, -5.08), (1322, -7.03, -7.03), (1601, -9.0, -9.0)]

MN_1E4_AGD = [(60, -0.8), (261, -1.05), (1005, -2.05), (1750, -3.0), (2867, -4.55), (3985, -5.9), (5102, -7.15), (6219, -8.4), (6685, -9.0)]
MN_1E4_R02 = [(40, -0.2, -1.0), (74, -0.6, -1.45), (261, -0.65, -1.6), (540, -0.9, -1.75), (819, -0.8, -1.9), (1099, -1.05, -1.75), (1378, -0.9, -1.75), (1657, -0.65, -1.6), (1936, -0.8, -1.75), (2123, -1.35, -2.3), (2309, -1.9, -2.7), (2495, -2.45, -3.4), (2774, -3.0, -3.85), (3054, -3.85, -4.5), (3333, -4.1, -4.8), (3612, -4.8, -5.9), (3892, -5.35, -7.0), (4171, -5.65, -7.7), (4450, -5.9, -8.0), (4729, -4.8, -7.6), (5009, -6.2, -8.3), (5288, -6.75, -8.85), (5567, -6.45, -8.1), (5754, -7.05, -9.0), (5940, -7.6, -9.0), (6126, -8.0, -9.0), (6312, -8.15, -9.0)]
MN_1E4_R03 = [(40, -0.3, -0.9), (168, -0.9, -2.0), (447, -1.35, -3.4), (726, -1.75, -4.1), (1005, -1.9, -3.4), (1285, -2.05, -3.85), (1564, -2.05, -4.25), (1843, -2.6, -4.55), (2123, -2.85, -5.2), (2402, -2.3, -4.4), (2681, -1.9, -4.1), (2961, -2.05, -4.8), (3240, -2.7, -5.1), (3519, -3.4, -5.6), (3798, -2.85, -5.1), (4078, -3.0, -5.35), (4357, -3.15, -5.5), (4636, -2.05, -4.25), (4916, -2.85, -5.2), (5195, -3.15, -5.8), (5474, -3.0, -5.9), (5754, -3.4, -6.2), (6033, -3.3, -5.9), (6312, -3.85, -6.9), (6591, -3.3, -6.35), (6871, -2.05, -6.2), (7150, -4.1, -6.45), (7429, -4.5, -7.3), (7709, -4.5, -6.9), (7895, -3.95, -7.6), (8081, -5.5, -8.0), (8267, -6.5, -8.95), (8416, -7.6, -8.95)]
MN_1E4_R05 = [(20, -0.3), (74, -1.7), (447, -3.8), (819, -6.2), (1192, -9.0)]
MN_1E4_R06 = [(20, -0.3), (74, -1.65), (447, -3.6), (819, -5.6), (1100, -7.4), (1378, -9.0)]
MN_1E4_AD = [(20, -0.2), (37, -0.64), (74, -1.6), (447, -3.42), (819, -5.08), (1192, -7.03), (1564, -9.0)]

SERIES_KEYS = ["agd", "r02", "r03", "r05", "r06", "ad"]
RHO_SPAN = "<span style='font-family:Liberation Serif;font-size:17px'>"
SERIES_NAMES = ["\u00a0\u00a0AGD",
                "\u00a0\u00a0" + RHO_SPAN + "<i>\u03c1</i>\u2009=\u20090.2</span>",
                "\u00a0\u00a0" + RHO_SPAN + "<i>\u03c1</i>\u2009=\u20090.3</span>",
                "\u00a0\u00a0" + RHO_SPAN + "<i>\u03c1</i>\u2009=\u20090.5</span>",
                "\u00a0\u00a0" + RHO_SPAN + "<i>\u03c1</i>\u2009=\u20090.6</span>",
                "\u00a0\u00a0" + RHO_SPAN + "<i>AD</i></span>"]
SCALE_LABELS = ["1e1", "1e2", "1e3", "1e4"]

COLORS = {"agd": "#c8c8c8", "r02": "#ff0000", "r03": "#ee82ee",
          "r05": "#8a2be2", "r06": "#0000ff", "ad": "#000000"}
DASHES = {"agd": "5px,3px", "r02": "2px,1.5px", "r03": "2px,1.5px",
          "r05": "2px,1.5px", "r06": "2px,1.5px", "ad": "solid"}
WIDTHS = {"agd": 1.3, "r02": 1.0, "r03": 1.0, "r05": 1.0, "r06": 1.0, "ad": 1.6}

SMALL_CAPS = "<span style='font-size:19px'>"
ROWS = [
    dict(xmax=ADULT_XMAX, floor=ADULT_FLOOR, yrange=(-10, 0), yticks=(0, -5, -10),
         caption="(a) " + SMALL_CAPS + "ADULT</span>.", caption_size=22,
         panels=[(ADULT_1E1_AGD, ADULT_1E1_R02, ADULT_1E1_R03, ADULT_1E1_R05, ADULT_1E1_R06, ADULT_1E1_AD),
                 (ADULT_1E2_AGD, ADULT_1E2_R02, ADULT_1E2_R03, ADULT_1E2_R05, ADULT_1E2_R06, ADULT_1E2_AD),
                 (ADULT_1E3_AGD, ADULT_1E3_R02, ADULT_1E3_R03, ADULT_1E3_R05, ADULT_1E3_R06, ADULT_1E3_AD),
                 (ADULT_1E4_AGD, ADULT_1E4_R02, ADULT_1E4_R03, ADULT_1E4_R05, ADULT_1E4_R06, ADULT_1E4_AD)]),
    dict(xmax=COV_XMAX, floor=COV_FLOOR, yrange=(-9, 2), yticks=(2, -3, -9),
         caption="(b) " + SMALL_CAPS + "COVTYPE</span>.", caption_size=22,
         panels=[(COV_1E1_AGD, COV_1E1_R02, COV_1E1_R03, COV_1E1_R05, COV_1E1_R06, COV_1E1_AD),
                 (COV_1E2_AGD, COV_1E2_R02, COV_1E2_R03, COV_1E2_R05, COV_1E2_R06, COV_1E2_AD),
                 (COV_1E3_AGD, COV_1E3_R02, COV_1E3_R03, COV_1E3_R05, COV_1E3_R06, COV_1E3_AD),
                 (COV_1E4_AGD, COV_1E4_R02, COV_1E4_R03, COV_1E4_R05, COV_1E4_R06, COV_1E4_AD)]),
    dict(xmax=GIS_XMAX, floor=GIS_FLOOR, yrange=(-10, 0), yticks=(0, -5, -10),
         caption="(c) " + SMALL_CAPS + "GISETTE_SCALE</span>.", caption_size=22,
         panels=[(GIS_1E1_AGD, GIS_1E1_R02, GIS_1E1_R03, GIS_1E1_R05, GIS_1E1_R06, GIS_1E1_AD),
                 (GIS_1E2_AGD, GIS_1E2_R02, GIS_1E2_R03, GIS_1E2_R05, GIS_1E2_R06, GIS_1E2_AD),
                 (GIS_1E3_AGD, GIS_1E3_R02, GIS_1E3_R03, GIS_1E3_R05, GIS_1E3_R06, GIS_1E3_AD),
                 (GIS_1E4_AGD, GIS_1E4_R02, GIS_1E4_R03, GIS_1E4_R05, GIS_1E4_R06, GIS_1E4_AD)]),
    dict(xmax=MN_XMAX, floor=MN_FLOOR, yrange=(-10, 0), yticks=(0, -5, -10),
         caption="(d) MNIST.", caption_size=24,
         panels=[(MN_1E1_AGD, MN_1E1_R02, MN_1E1_R03, MN_1E1_R05, MN_1E1_R06, MN_1E1_AD),
                 (MN_1E2_AGD, MN_1E2_R02, MN_1E2_R03, MN_1E2_R05, MN_1E2_R06, MN_1E2_AD),
                 (MN_1E3_AGD, MN_1E3_R02, MN_1E3_R03, MN_1E3_R05, MN_1E3_R06, MN_1E3_AD),
                 (MN_1E4_AGD, MN_1E4_R02, MN_1E4_R03, MN_1E4_R05, MN_1E4_R06, MN_1E4_AD)]),
]

# ---- page geometry (pixels) ----
PANEL_X = [[(120, 278), (310, 468), (500, 657), (689, 847)],
           [(114, 272), (303, 461), (493, 651), (682, 841)],
           [(120, 278), (310, 468), (500, 657), (689, 847)],
           [(120, 278), (310, 468), (500, 657), (689, 847)]]
PANEL_Y = [(19, 260), (375, 617), (732, 972), (1088, 1328)]
LEGEND_BOX = [(171, 5, 797, 33), (165, 362, 790, 390), (171, 718, 797, 746), (171, 1075, 797, 1103)]
CAPTION_Y = [338, 696, 1052, 1409]
LEFT_PAD = 7.0 / 151.0
FONT_SANS = "DejaVu Sans"
FONT_SERIF = "Liberation Serif"
TEXT_COLOR = "#262626"
BAND_FILL_OPACITY = 0.8


def px_x(x):
    return x / W


def px_y(y):
    return 1 - y / H


def sup(v):
    return "10<sup>" + (str(v) if v >= 0 else "\u2212" + str(-v)) + "</sup>"


def rounded_box(x0, y0, x1, y1, r):
    def P(x, y):
        return f"{px_x(x):.5f},{px_y(y):.5f}"
    return (f"M{P(x0 + r, y0)} L{P(x1 - r, y0)} Q{P(x1, y0)} {P(x1, y0 + r)} "
            f"L{P(x1, y1 - r)} Q{P(x1, y1)} {P(x1 - r, y1)} L{P(x0 + r, y1)} "
            f"Q{P(x0, y1)} {P(x0, y1 - r)} L{P(x0, y0 + r)} Q{P(x0, y0)} {P(x0 + r, y0)} Z")


fig = go.Figure()
layout = dict(width=W, height=H, margin=dict(l=0, r=0, t=0, b=0, autoexpand=False),
              paper_bgcolor="white", plot_bgcolor="white", showlegend=True)
annotations = []
shapes = []

for r, row in enumerate(ROWS):
    xmax = row["xmax"]
    lo, hi = row["yrange"]
    legend_id = "legend" if r == 0 else f"legend{r + 1}"
    for c, series in enumerate(row["panels"]):
        n = r * 4 + c + 1
        xa = "x" if n == 1 else f"x{n}"
        ya = "y" if n == 1 else f"y{n}"
        x0p, x1p = PANEL_X[r][c]
        y0p, y1p = PANEL_Y[r]
        layout["xaxis" if n == 1 else f"xaxis{n}"] = dict(
            domain=[px_x(x0p), px_x(x1p)], anchor=ya,
            range=[-LEFT_PAD * xmax, xmax * 1.0005],
            tickvals=[0, xmax], ticktext=["0", str(xmax)],
            showgrid=False, zeroline=False, showline=True, mirror=True,
            linecolor="#cccccc", linewidth=1, ticks="", ticklabelstandoff=6,
            tickfont=dict(family=FONT_SANS, size=14, color=TEXT_COLOR))
        layout["yaxis" if n == 1 else f"yaxis{n}"] = dict(
            domain=[px_y(y1p), px_y(y0p)], anchor=xa, type="log",
            range=[lo, hi], tickvals=[10.0 ** t for t in row["yticks"]],
            ticktext=[sup(t) for t in row["yticks"]], showticklabels=(c == 0),
            showgrid=False, zeroline=False, showline=True, mirror=True,
            linecolor="#cccccc", linewidth=1, ticks="", ticklabelstandoff=2,
            tickfont=dict(family=FONT_SANS, size=22, color=TEXT_COLOR))

        # horizontal reference at the precision floor in the last panel
        if c == 3:
            fig.add_trace(go.Scatter(
                x=[-LEFT_PAD * xmax, xmax], y=[10.0 ** row["floor"]] * 2, mode="lines",
                line=dict(color=COLORS["agd"], width=1.3, dash="6px,3px"),
                xaxis=xa, yaxis=ya, showlegend=False, hoverinfo="skip"))

        for key, pts in zip(SERIES_KEYS, series):
            color = COLORS[key]
            if len(pts[0]) == 3:
                xs = [p[0] for p in pts]
                his = [10.0 ** p[1] for p in pts]
                los = [10.0 ** p[2] for p in pts]
                fig.add_trace(go.Scatter(
                    x=xs + xs[::-1], y=his + los[::-1], mode="lines", fill="toself",
                    fillcolor=color, opacity=BAND_FILL_OPACITY, line=dict(width=0),
                    xaxis=xa, yaxis=ya, showlegend=False, hoverinfo="skip"))
                zx, zy = [], []
                for i, (xv, hv, lv) in enumerate(zip(xs, his, los)):
                    zx += [xv, xv]
                    zy += [hv, lv] if i % 2 == 0 else [lv, hv]
                fig.add_trace(go.Scatter(
                    x=zx, y=zy, mode="lines",
                    line=dict(color=color, width=1.4 if key == "ad" else 0.8),
                    xaxis=xa, yaxis=ya, showlegend=False, hoverinfo="skip"))
            else:
                fig.add_trace(go.Scatter(
                    x=[p[0] for p in pts], y=[10.0 ** p[1] for p in pts], mode="lines",
                    line=dict(color=color, width=WIDTHS[key], dash=DASHES[key]),
                    xaxis=xa, yaxis=ya, showlegend=False, hoverinfo="skip"))

        annotations.append(dict(
            x=px_x((x0p + x1p) / 2), y=px_y(y1p + 37), xref="paper", yref="paper",
            text=SCALE_LABELS[c], showarrow=False, xanchor="center", yanchor="middle",
            font=dict(family=FONT_SANS, size=21, color=TEXT_COLOR)))

    # legend entries for this row (no marks drawn)
    first_x = "x" if r == 0 else f"x{r * 4 + 1}"
    first_y = "y" if r == 0 else f"y{r * 4 + 1}"
    for key, name in zip(SERIES_KEYS, SERIES_NAMES):
        fig.add_trace(go.Scatter(
            x=[None], y=[None], mode="lines", name=name, legend=legend_id,
            line=dict(color=COLORS[key], width=WIDTHS[key] + 0.3, dash=DASHES[key]),
            xaxis=first_x, yaxis=first_y, showlegend=True))

    bx0, by0, bx1, by1 = LEGEND_BOX[r]
    layout[legend_id] = dict(
        x=px_x(bx0 - 4), y=px_y((by0 + by1) / 2), xref="container", yref="container",
        xanchor="left", yanchor="middle",
        orientation="h", bgcolor="rgba(0,0,0,0)", borderwidth=0,
        itemwidth=30, entrywidth=65, entrywidthmode="pixels",
        font=dict(family=FONT_SANS, size=14, color=TEXT_COLOR), itemclick=False)

    shapes.append(dict(type="path", path=rounded_box(bx0 + 1.5, by0 + 2, bx1 + 1.5, by1 + 2, 4),
                       xref="paper", yref="paper", fillcolor="rgba(0,0,0,0.18)",
                       line=dict(width=0), layer="above"))
    shapes.append(dict(type="path", path=rounded_box(bx0, by0, bx1, by1, 4),
                       xref="paper", yref="paper", fillcolor="white",
                       line=dict(color="#cccccc", width=1), layer="above"))

    y0p, y1p = PANEL_Y[r]
    annotations.append(dict(
        x=px_x(32), y=px_y((y0p + y1p) / 2), xref="paper", yref="paper",
        text="<i>f</i>(<i>x<sub>t</sub></i>) \u2212 <i>f</i><sub>*</sub>",
        textangle=-90, showarrow=False, xanchor="center", yanchor="middle",
        font=dict(family=FONT_SERIF, size=31, color="black")))
    annotations.append(dict(
        x=px_x(437), y=px_y(CAPTION_Y[r]), xref="paper", yref="paper",
        text=row["caption"], showarrow=False, xanchor="center", yanchor="middle",
        font=dict(family=FONT_SERIF, size=row["caption_size"], color="black")))

layout["annotations"] = annotations
layout["shapes"] = shapes
fig.update_layout(**layout)
fig.write_html("out.html")
